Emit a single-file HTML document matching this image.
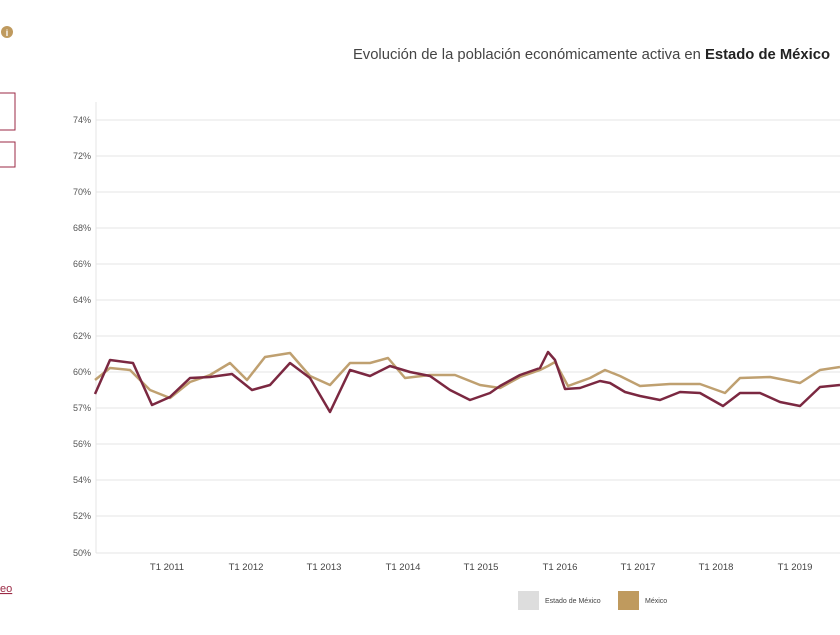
<!DOCTYPE html>
<html><head><meta charset="utf-8"><style>
body{margin:0;width:840px;height:630px;background:#fff;overflow:hidden;font-family:"Liberation Sans",sans-serif}
</style></head><body>
<svg width="840" height="630" xmlns="http://www.w3.org/2000/svg" font-family="Liberation Sans, sans-serif">
<circle cx="7" cy="32" r="6" fill="#bf9a5e"/><text x="7" y="36" font-size="9" fill="#fff" text-anchor="middle" font-weight="bold">i</text>
<rect x="-5" y="93" width="20" height="37" fill="none" stroke="#9b2a45" stroke-width="1"/>
<rect x="-5" y="142" width="20" height="25" fill="none" stroke="#9b2a45" stroke-width="1"/>
<text x="0" y="592" font-size="11" fill="#9b2a45" text-decoration="underline">eo</text>
<text x="830" y="59" font-size="14.8" fill="#444" text-anchor="end">Evolución de la población económicamente activa en <tspan font-weight="bold" fill="#222">Estado de México</tspan></text>
<g stroke="#e4e4e4" stroke-width="1">
<line x1="96" y1="120" x2="840" y2="120"/><line x1="96" y1="156" x2="840" y2="156"/><line x1="96" y1="192" x2="840" y2="192"/><line x1="96" y1="228" x2="840" y2="228"/><line x1="96" y1="264" x2="840" y2="264"/><line x1="96" y1="300" x2="840" y2="300"/><line x1="96" y1="336" x2="840" y2="336"/><line x1="96" y1="372" x2="840" y2="372"/><line x1="96" y1="408" x2="840" y2="408"/><line x1="96" y1="444" x2="840" y2="444"/><line x1="96" y1="480" x2="840" y2="480"/><line x1="96" y1="516" x2="840" y2="516"/><line x1="96" y1="553" x2="840" y2="553"/>
<line x1="96" y1="102" x2="96" y2="553"/>
</g>
<g font-size="9" fill="#555" text-anchor="end">
<text x="91" y="123">74%</text><text x="91" y="159">72%</text><text x="91" y="195">70%</text><text x="91" y="231">68%</text><text x="91" y="267">66%</text><text x="91" y="303">64%</text><text x="91" y="339">62%</text><text x="91" y="375">60%</text><text x="91" y="411">57%</text><text x="91" y="447">56%</text><text x="91" y="483">54%</text><text x="91" y="519">52%</text><text x="91" y="556">50%</text>
</g>
<g font-size="9.5" fill="#444" text-anchor="middle">
<text x="167" y="570">T1 2011</text><text x="246" y="570">T1 2012</text><text x="324" y="570">T1 2013</text><text x="403" y="570">T1 2014</text><text x="481" y="570">T1 2015</text><text x="560" y="570">T1 2016</text><text x="638" y="570">T1 2017</text><text x="716" y="570">T1 2018</text><text x="795" y="570">T1 2019</text>
</g>
<polyline fill="none" stroke="#bfa070" stroke-width="2.5" stroke-linejoin="round" points="95,380 110,368 130,370 150,390 170,398 190,382 210,375 230,363 247,380 265,357 290,353 310,376 330,385 350,363 370,363 388,358 405,378 430,375 455,375 480,385 500,388 520,377 540,370 548,366 555,362 568,386 590,378 605,370 620,376 640,386 670,384 700,384 725,393 740,378 770,377 800,383 820,370 840,367"/>
<polyline fill="none" stroke="#7b2841" stroke-width="2.5" stroke-linejoin="round" points="95,394 110,360 133,363 152,405 170,397 190,378 210,377 232,374 252,390 270,385 290,363 310,378 330,412 350,370 370,376 390,366 410,372 430,376 450,390 470,400 490,393 500,386 520,375 540,368 548,352 555,360 565,389 580,388 600,381 610,383 625,392 640,396 660,400 680,392 700,393 723,406 740,393 760,393 780,402 800,406 820,387 840,385"/>
<rect x="518" y="591" width="21" height="19" fill="#ddd"/>
<text x="545" y="603" font-size="7" fill="#444">Estado de México</text>
<rect x="618" y="591" width="21" height="19" fill="#bf9a5e"/>
<text x="645" y="603" font-size="7" fill="#444">México</text>
</svg>
</body></html>
